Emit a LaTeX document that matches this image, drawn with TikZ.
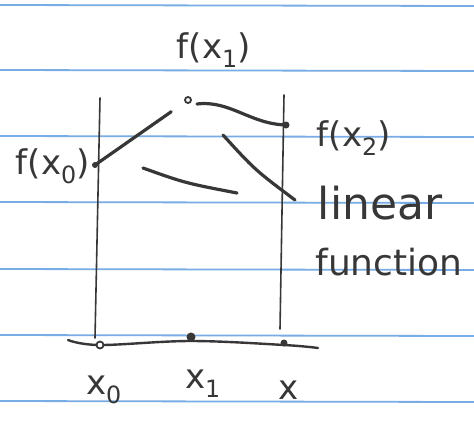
\documentclass[tikz,border=0pt]{standalone}
\usepackage{fontspec}
\setmainfont{DejaVu Sans}
\usetikzlibrary{calc}
\definecolor{ink}{RGB}{55,55,55}
\definecolor{ruleblue}{RGB}{120,172,228}
\begin{document}
\begin{tikzpicture}[x=1pt,y=-1pt,
  pen/.style={draw=ink, line width=3.2pt, line cap=round},
  thin pen/.style={draw=ink, line width=1.6pt, line cap=round},
  rule/.style={draw=ruleblue, line width=1.8pt},
  lab/.style={text=ink, inner sep=0pt, font=\fontsize{34}{34}\selectfont},
  hollow/.style={circle, draw=ink, line width=1.8pt, fill=white, minimum size=7pt, inner sep=0pt},
  dot/.style={circle, fill=ink, minimum size=6pt, inner sep=0pt}]
\useasboundingbox (0,0) rectangle (474,424);
\fill[white] (0,0) rectangle (474,424);
% ruled paper
\foreach \yy in {5,70,136,202,269,335,401}
  \draw[rule] (0,\yy) -- (474,\yy+1);
% vertical lines
\coordinate (l0top) at (100,98);
\coordinate (l0bot) at (95,338);
\coordinate (l2top) at (284,95);
\coordinate (l2bot) at (280,329);
\draw[thin pen] (l0top) -- (l0bot);
\draw[thin pen] (l2top) -- (l2bot);
% axis
\draw[pen, line width=2.4pt] plot[smooth, tension=0.6] coordinates {(68,340) (100,345) (191,341) (284,345) (318,348)};
\node[hollow] (x0) at (100,345) {};
\node[dot, minimum width=6pt, minimum height=9pt] (x1) at (191,337) {};
\node[dot, minimum width=7pt, minimum height=7pt] (x2) at (284,343) {};
% function points
\coordinate (fx0) at (95,165);
\node[hollow, minimum size=6pt] (fx1) at (188,100) {};
\coordinate (fx2) at (286,125);
\draw[pen] (fx0) -- ($(fx0)!0.82!(fx1)$);
\fill[ink] (fx0) circle (3pt);
\draw[pen] (197,104) .. controls (230,100) and (250,124) .. (fx2);
\fill[ink] (fx2) circle (3.5pt);
% labels
\node[lab] (Lfx1) at (214,50) {f(x\textsubscript{1})};
\node[lab] (Lfx0) at (53,166) {f(x\textsubscript{0})};
\node[lab] (Lfx2) at (354,138) {f(x\textsubscript{2})};
\node[lab] (Lx0) at (104,390) {x\textsubscript{0}};
\node[lab] (Lx1) at (203,384) {x\textsubscript{1}};
\node[lab] (Lx) at (289,390) {x};
\node[lab, font=\fontsize{44}{44}\selectfont] (lin) at (380,203) {linear};
\node[lab, font=\fontsize{36}{36}\selectfont] (fun) at (389,262) {function};
% pointers
\coordinate (q1) at (143,168);
\coordinate (q2) at (223,135);
\draw[pen] (q1) .. controls (185,183) .. (237,193);
\draw[pen] (q2) .. controls (255,170) .. (295,200);
\end{tikzpicture}
\end{document}
